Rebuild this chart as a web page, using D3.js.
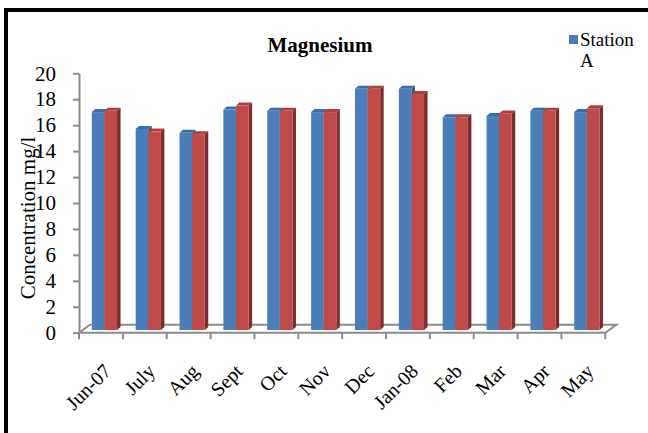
<!DOCTYPE html>
<html>
<head>
<meta charset="utf-8">
<script src="https://cdn.jsdelivr.net/npm/d3@7"></script>
<style>
  html, body { margin: 0; padding: 0; background: #fff; }
  svg { display: block; }
  text { font-family: "Liberation Serif", "Times New Roman", serif; fill: #000; }
</style>
</head>
<body>
<svg id="chart" width="648" height="433"></svg>
<script>
// Monthly magnesium concentration (mg/l)
const categories = ["Jun-07", "July", "Aug", "Sept", "Oct", "Nov", "Dec", "Jan-08", "Feb", "Mar", "Apr", "May"];
const stationA = [16.8, 15.5, 15.2, 17.0, 16.9, 16.8, 18.6, 18.6, 16.4, 16.5, 16.9, 16.8];
const stationB = [16.9, 15.3, 15.1, 17.3, 16.9, 16.8, 18.6, 18.2, 16.4, 16.7, 16.9, 17.1];
const seriesNames = ["Station A", "Station B"];
const yTicks = [0, 2, 4, 6, 8, 10, 12, 14, 16, 18, 20];

const series = [
  { name: seriesNames[0], values: stationA, front: "#4a7ebb", top: "#3d6ba6", side: "#2f5788" },
  { name: seriesNames[1], values: stationB, front: "#be4b48", top: "#a9403d", side: "#7c2d2b" }
];

const svg = d3.select("#chart");
const axisGrey = "#8c8c8c";

// frame around the chart area
svg.append("rect")
  .attr("x", 6).attr("y", 10)
  .attr("width", 700).attr("height", 500)
  .attr("fill", "none").attr("stroke", "#000").attr("stroke-width", 4);

const x = d3.scaleBand().domain(categories).range([79, 605.3])
  .paddingInner(0.425).paddingOuter(0.2125);
const xs = d3.scaleBand().domain(seriesNames).range([0, x.bandwidth()]);
const y = d3.scaleLinear().domain([0, 20]).range([332.7, 73.3]);

// depth of the floor and placement of the bars within it
const floorDx = 11, floorDy = -8;
const barDx = 3.5, barDy = -2.7;
const depthDx = 3.5, depthDy = -3;

const [x0, x1] = x.range();
const y0 = y(0);

// floor
svg.append("path")
  .attr("d", `M${x0},${y0}L${x1},${y0}L${x1 + floorDx},${y0 + floorDy}L${x0 + floorDx},${y0 + floorDy}Z`)
  .attr("fill", "none").attr("stroke", axisGrey).attr("stroke-width", 2);

// category tick marks below the floor
svg.append("g").selectAll("line")
  .data(d3.range(categories.length + 1))
  .join("line")
  .attr("x1", i => x0 + i * x.step()).attr("x2", i => x0 + i * x.step())
  .attr("y1", y0).attr("y2", y0 + 6.5)
  .attr("stroke", axisGrey).attr("stroke-width", 2);

// bars drawn as simple prisms: top, side, front
const bars = svg.append("g");
categories.forEach((c, i) => {
  series.forEach(s => {
    const v = s.values[i];
    const bx0 = x(c) + xs(s.name) + barDx;
    const bx1 = bx0 + xs.bandwidth();
    const by0 = y(0) + barDy;
    const by1 = y(v) + barDy;
    const g = bars.append("g");
    g.append("path")
      .attr("d", `M${bx0},${by1}L${bx0 + depthDx},${by1 + depthDy}L${bx1 + depthDx},${by1 + depthDy}L${bx1},${by1}Z`)
      .attr("fill", s.top);
    g.append("path")
      .attr("d", `M${bx1},${by0}L${bx1 + depthDx},${by0 + depthDy}L${bx1 + depthDx},${by1 + depthDy}L${bx1},${by1}Z`)
      .attr("fill", s.side);
    g.append("rect")
      .attr("x", bx0).attr("y", by1)
      .attr("width", bx1 - bx0).attr("height", by0 - by1)
      .attr("fill", s.front);
  });
});

// value axis
const yAxis = svg.append("g")
  .attr("transform", `translate(${x0},0)`)
  .call(d3.axisLeft(y).tickValues(yTicks).tickFormat(d3.format("d"))
    .tickSize(6).tickSizeOuter(0).tickPadding(17));
yAxis.select(".domain").attr("stroke", axisGrey).attr("stroke-width", 2);
yAxis.selectAll(".tick line").attr("stroke", axisGrey).attr("stroke-width", 2);
yAxis.selectAll(".tick text")
  .attr("fill", "#000")
  .style("font-family", "'Liberation Serif', 'Times New Roman', serif")
  .style("font-size", "21px");

// category labels, slanted
svg.append("g").selectAll("text")
  .data(categories)
  .join("text")
  .attr("transform", c => `translate(${x(c) + x.bandwidth() / 2 + 11.5},372.5) rotate(-45)`)
  .attr("text-anchor", "end")
  .style("font-size", "20px")
  .text(c => c);

// axis title
svg.append("text")
  .attr("transform", "translate(34.5,218) rotate(-90)")
  .attr("text-anchor", "middle")
  .style("font-size", "21px")
  .text("Concentration mg/l");

// chart title
svg.append("text")
  .attr("x", 320).attr("y", 52)
  .attr("text-anchor", "middle")
  .style("font-size", "21px").style("font-weight", "bold")
  .text("Magnesium");

// legend
const legend = svg.append("g");
legend.append("rect")
  .attr("x", 569).attr("y", 35).attr("width", 9).attr("height", 9)
  .attr("fill", series[0].front);
legend.append("text")
  .attr("x", 580).attr("y", 46)
  .style("font-size", "19px")
  .text("Station");
legend.append("text")
  .attr("x", 580).attr("y", 67)
  .style("font-size", "19px")
  .text("A");
</script>
</body>
</html>
